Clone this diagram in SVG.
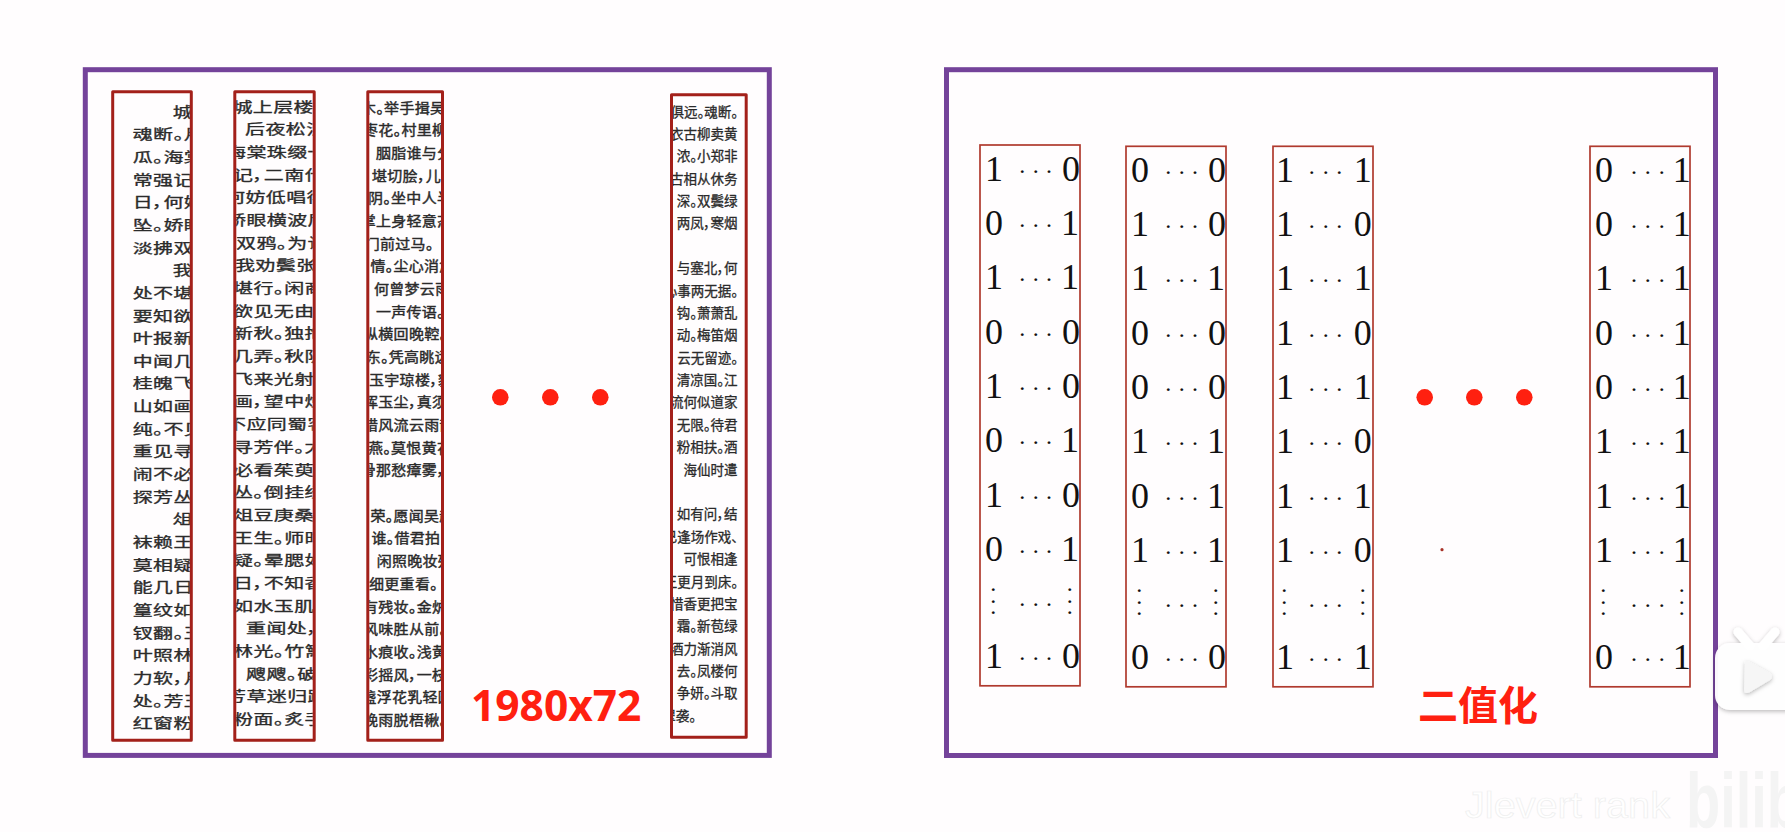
<svg xmlns="http://www.w3.org/2000/svg" width="1785" height="832" viewBox="0 0 1785 832">
<style>
.frame{fill:none;stroke:#74439a;stroke-width:5}
.tb{fill:none;stroke:#a3201a;stroke-width:3;stroke-linejoin:round}
.mb{fill:none;stroke:#b03a2e;stroke-width:1.7}
.c{font-family:"Noto Sans CJK SC","Noto Sans CJK JP",sans-serif;fill:#2b2b2b;stroke:#2b2b2b;stroke-width:.45;font-feature-settings:"palt"}
.c1{font-size:20px;letter-spacing:.4px}
.c3{font-size:15px;letter-spacing:.3px}
.c4{font-size:13.5px;letter-spacing:0;text-anchor:end;stroke-width:.3}
.d{font-family:"Liberation Serif","Times New Roman",serif;font-size:36px;fill:#111;text-anchor:middle}
.h{font-size:24px}
.dot{fill:#ff2010}
.big{fill:#ff2010;font-weight:700}
</style>
<defs>
<clipPath id="c1"><rect x="114.5" y="93" width="75.3" height="645.5"/></clipPath>
<clipPath id="c2"><rect x="236.3" y="93" width="76.4" height="645.5"/></clipPath>
<clipPath id="c3"><rect x="369.3" y="93" width="71.7" height="645.5"/></clipPath>
<clipPath id="c4"><rect x="673" y="96" width="71.7" height="640"/></clipPath>
<filter id="sh" x="-20%" y="-20%" width="140%" height="140%"><feDropShadow dx="0" dy="1.5" stdDeviation="2" flood-color="#000" flood-opacity=".28"/></filter>
</defs>
<rect width="1785" height="832" fill="#fffdfe"/>

<g id="panel-text">
<rect class="frame" x="85.3" y="69.7" width="684" height="685.7"/>
<g id="strip-1">
<g clip-path="url(#c1)" class="c c1">
<text x="172.7" transform="matrix(1 0 0 .68 0 116.6)">城</text>
<text x="132.7" transform="matrix(1 0 0 .68 0 139.3)">魂断。月</text>
<text x="132.7" transform="matrix(1 0 0 .68 0 161.9)">瓜。海棠</text>
<text x="132.7" transform="matrix(1 0 0 .68 0 184.6)">常强记</text>
<text x="132.7" transform="matrix(1 0 0 .68 0 207.2)">日，何妨</text>
<text x="132.7" transform="matrix(1 0 0 .68 0 229.9)">坠。娇眼</text>
<text x="132.7" transform="matrix(1 0 0 .68 0 252.5)">淡拂双</text>
<text x="172.7" transform="matrix(1 0 0 .68 0 275.2)">我</text>
<text x="132.7" transform="matrix(1 0 0 .68 0 297.8)">处不堪</text>
<text x="132.7" transform="matrix(1 0 0 .68 0 320.5)">要知欲</text>
<text x="132.7" transform="matrix(1 0 0 .68 0 343.1)">叶报新</text>
<text x="132.7" transform="matrix(1 0 0 .68 0 365.8)">中闻几</text>
<text x="132.7" transform="matrix(1 0 0 .68 0 388.4)">桂魄飞</text>
<text x="132.7" transform="matrix(1 0 0 .68 0 411.1)">山如画</text>
<text x="132.7" transform="matrix(1 0 0 .68 0 433.7)">纯。不见</text>
<text x="132.7" transform="matrix(1 0 0 .68 0 456.4)">重见寻</text>
<text x="132.7" transform="matrix(1 0 0 .68 0 479)">闹不必</text>
<text x="132.7" transform="matrix(1 0 0 .68 0 501.7)">探芳丛</text>
<text x="172.7" transform="matrix(1 0 0 .68 0 524.3)">俎</text>
<text x="132.7" transform="matrix(1 0 0 .68 0 547)">袜赖王</text>
<text x="132.7" transform="matrix(1 0 0 .68 0 569.6)">莫相疑</text>
<text x="132.7" transform="matrix(1 0 0 .68 0 592.3)">能几日</text>
<text x="132.7" transform="matrix(1 0 0 .68 0 614.9)">篁纹如</text>
<text x="132.7" transform="matrix(1 0 0 .68 0 637.6)">钗翻。玉</text>
<text x="132.7" transform="matrix(1 0 0 .68 0 660.2)">叶照林</text>
<text x="132.7" transform="matrix(1 0 0 .68 0 682.9)">力软，月</text>
<text x="132.7" transform="matrix(1 0 0 .68 0 705.5)">处。芳玉</text>
<text x="132.7" transform="matrix(1 0 0 .68 0 728.2)">红窗粉</text>
</g>
<rect class="tb" x="112.7" y="91.8" width="78.6" height="648.5"/>
</g>
<g id="strip-2">
<g clip-path="url(#c2)" class="c c1">
<text x="232.4" transform="matrix(1 0 0 .68 0 111.6)">城上层楼</text>
<text x="245" transform="matrix(1 0 0 .68 0 134.3)">后夜松泛</text>
<text x="226" transform="matrix(1 0 0 .68 0 157)">海棠珠缀一</text>
<text x="233" transform="matrix(1 0 0 .68 0 179.6)">记，二南什</text>
<text x="225" transform="matrix(1 0 0 .68 0 202.3)">何妨低唱徘</text>
<text x="226" transform="matrix(1 0 0 .68 0 225)">娇眼横波后</text>
<text x="236" transform="matrix(1 0 0 .68 0 247.7)">双鸦。为让</text>
<text x="235" transform="matrix(1 0 0 .68 0 270.4)">我劝鬓张</text>
<text x="233" transform="matrix(1 0 0 .68 0 293)">堪行。闲商</text>
<text x="233" transform="matrix(1 0 0 .68 0 315.7)">欲见无由</text>
<text x="233" transform="matrix(1 0 0 .68 0 338.4)">新秋。独抱</text>
<text x="233" transform="matrix(1 0 0 .68 0 361.1)">几弄。秋阴</text>
<text x="233" transform="matrix(1 0 0 .68 0 383.8)">飞来光射</text>
<text x="233" transform="matrix(1 0 0 .68 0 406.4)">画，望中烛</text>
<text x="226" transform="matrix(1 0 0 .68 0 429.1)">不应同蜀客</text>
<text x="233" transform="matrix(1 0 0 .68 0 451.8)">寻芳伴。大</text>
<text x="233" transform="matrix(1 0 0 .68 0 474.5)">必看茱萸</text>
<text x="233" transform="matrix(1 0 0 .68 0 497.2)">丛。倒挂绣</text>
<text x="233" transform="matrix(1 0 0 .68 0 519.8)">俎豆庚桑</text>
<text x="233" transform="matrix(1 0 0 .68 0 542.5)">王生。师时</text>
<text x="233" transform="matrix(1 0 0 .68 0 565.2)">疑。晕腮如</text>
<text x="233" transform="matrix(1 0 0 .68 0 587.9)">日，不知香</text>
<text x="233" transform="matrix(1 0 0 .68 0 610.6)">如水玉肌</text>
<text x="246" transform="matrix(1 0 0 .68 0 633.2)">重闻处，</text>
<text x="233" transform="matrix(1 0 0 .68 0 655.9)">林光。竹篱</text>
<text x="246" transform="matrix(1 0 0 .68 0 678.6)">飕飕。破</text>
<text x="226" transform="matrix(1 0 0 .68 0 701.3)">芳草迷归路</text>
<text x="233" transform="matrix(1 0 0 .68 0 724)">粉面。炙手</text>
</g>
<rect class="tb" x="234.8" y="91.8" width="79.4" height="648.5"/>
</g>
<g id="strip-3">
<g clip-path="url(#c3)" class="c c3">
<text x="361" transform="matrix(1 0 0 .92 0 112.5)">木。举手揖吴</text>
<text x="363" transform="matrix(1 0 0 .92 0 135.2)">枣花。村里柳</text>
<text x="376" transform="matrix(1 0 0 .92 0 157.9)">胭脂谁与分</text>
<text x="372" transform="matrix(1 0 0 .92 0 180.5)">堪切脍，儿</text>
<text x="368" transform="matrix(1 0 0 .92 0 203.2)">阴。坐中人半</text>
<text x="360.7" transform="matrix(1 0 0 .92 0 225.9)">掌上身轻意态</text>
<text x="364.7" transform="matrix(1 0 0 .92 0 248.6)">门前过马。</text>
<text x="370.4" transform="matrix(1 0 0 .92 0 271.3)">情。尘心消念</text>
<text x="374" transform="matrix(1 0 0 .92 0 293.9)">何曾梦云雨</text>
<text x="376" transform="matrix(1 0 0 .92 0 316.6)">一声传语。</text>
<text x="363" transform="matrix(1 0 0 .92 0 339.3)">纵横回晚鞚。</text>
<text x="365.7" transform="matrix(1 0 0 .92 0 362)">东。凭高眺远</text>
<text x="369" transform="matrix(1 0 0 .92 0 384.7)">玉宇琼楼，貌</text>
<text x="363" transform="matrix(1 0 0 .92 0 407.3)">挥玉尘，真须</text>
<text x="363" transform="matrix(1 0 0 .92 0 430)">惜风流云雨散</text>
<text x="368" transform="matrix(1 0 0 .92 0 452.7)">燕。莫恨黄花</text>
<text x="360.7" transform="matrix(1 0 0 .92 0 475.4)">骨那愁瘴雾，</text>
<text x="370.4" transform="matrix(1 0 0 .92 0 520.7)">荣。愿闻吴越</text>
<text x="371.4" transform="matrix(1 0 0 .92 0 543.4)">谁。借君拍</text>
<text x="376.7" transform="matrix(1 0 0 .92 0 566.1)">闲照晚妆残</text>
<text x="369" transform="matrix(1 0 0 .92 0 588.8)">细更重看。</text>
<text x="363" transform="matrix(1 0 0 .92 0 611.5)">有残妆。金炉</text>
<text x="363" transform="matrix(1 0 0 .92 0 634.1)">风味胜从前。</text>
<text x="363" transform="matrix(1 0 0 .92 0 656.8)">水痕收。浅黄</text>
<text x="363" transform="matrix(1 0 0 .92 0 679.5)">彩摇风，一枝</text>
<text x="361.4" transform="matrix(1 0 0 .92 0 702.2)">盏浮花乳轻圆</text>
<text x="363" transform="matrix(1 0 0 .92 0 724.9)">晚雨脱梧楸。</text>
</g>
<rect class="tb" x="367.8" y="91.8" width="74.7" height="648.5"/>
</g>
<g id="strip-4">
<g clip-path="url(#c4)" class="c c4">
<text x="738" y="116.5">俱远。魂断。</text>
<text x="737.5" y="138.9">衣古柳卖黄</text>
<text x="737.5" y="161.3">浓。小郑非</text>
<text x="737.5" y="183.6">古相从休务</text>
<text x="737.5" y="206">深。双鬓绿</text>
<text x="737.5" y="228.4">两凤，寒烟</text>
<text x="737.5" y="273.2">与塞北，何</text>
<text x="738" y="295.5">心事两无据。</text>
<text x="737.5" y="317.9">钩。萧萧乱</text>
<text x="737.5" y="340.3">动。梅笛烟</text>
<text x="738" y="362.7">云无留迹。</text>
<text x="737.5" y="385.1">清凉国。江</text>
<text x="737.5" y="407.4">流何似道家</text>
<text x="737.5" y="429.8">无限。待君</text>
<text x="737.5" y="452.2">粉相扶。酒</text>
<text x="737.5" y="474.6">海仙时遣</text>
<text x="737.5" y="519.3">如有问，结</text>
<text x="738" y="541.7">已逢场作戏、</text>
<text x="737.5" y="564.1">可恨相逢</text>
<text x="738" y="586.5">王更月到床。</text>
<text x="737.5" y="608.9">惜香更把宝</text>
<text x="737.5" y="631.2">霜。新苞绿</text>
<text x="737.5" y="653.6">酒力渐消风</text>
<text x="737.5" y="676">去。凤楼何</text>
<text x="737.5" y="698.4">争妍。斗取</text>
<text x="696" y="720.8">翠袭。</text>
</g>
<rect class="tb" x="671.5" y="94.8" width="74.7" height="642.4"/>
</g>
<g id="ellipsis-left">
<circle class="dot" cx="500.3" cy="397.3" r="8.3"/>
<circle class="dot" cx="550.3" cy="397.3" r="8.3"/>
<circle class="dot" cx="600.3" cy="397.3" r="8.3"/>
</g>
<text id="label-size" class="big" x="471" y="720.7" font-family="Open Sans, Liberation Sans, sans-serif" font-size="42.5">1980x72</text>
</g>

<g id="panel-binary">
<rect class="frame" x="946.5" y="69.7" width="769" height="685.8"/>
<g id="matrix-1">
<rect class="mb" x="980" y="145" width="100" height="540.8"/>
<g class="d">
<text x="994 1022.3 1035.7 1049 1071" y="180.7">1<tspan class="h" dy="-2">···</tspan><tspan dy="2">0</tspan></text>
<text x="994 1022.3 1035.7 1049 1070" y="235">0<tspan class="h" dy="-2">···</tspan><tspan dy="2">1</tspan></text>
<text x="994 1022.3 1035.7 1049 1070" y="289">1<tspan class="h" dy="-2">···</tspan><tspan dy="2">1</tspan></text>
<text x="994 1022.3 1035.7 1049 1071" y="344">0<tspan class="h" dy="-2">···</tspan><tspan dy="2">0</tspan></text>
<text x="994 1022.3 1035.7 1049 1071" y="398">1<tspan class="h" dy="-2">···</tspan><tspan dy="2">0</tspan></text>
<text x="994 1022.3 1035.7 1049 1070" y="452">0<tspan class="h" dy="-2">···</tspan><tspan dy="2">1</tspan></text>
<text x="994 1022.3 1035.7 1049 1071" y="506.7">1<tspan class="h" dy="-2">···</tspan><tspan dy="2">0</tspan></text>
<text x="994 1022.3 1035.7 1049 1070" y="560.7">0<tspan class="h" dy="-2">···</tspan><tspan dy="2">1</tspan></text>
<text class="h" x="993.3 993.3 993.3" y="596.7 609.3 620">···</text>
<text class="h" x="1022.3 1035.7 1049" y="611.7">···</text>
<text class="h" x="1069.7 1069.7 1069.7" y="596.7 609.3 620">···</text>
<text x="994 1022.3 1035.7 1049 1071" y="668.3">1<tspan class="h" dy="-2">···</tspan><tspan dy="2">0</tspan></text>
</g>
</g>
<g id="matrix-2">
<rect class="mb" x="1126" y="146.3" width="100" height="540.5"/>
<g class="d">
<text x="1140 1168.3 1181.7 1195 1217" y="181.7">0<tspan class="h" dy="-2">···</tspan><tspan dy="2">0</tspan></text>
<text x="1140 1168.3 1181.7 1195 1217" y="236">1<tspan class="h" dy="-2">···</tspan><tspan dy="2">0</tspan></text>
<text x="1140 1168.3 1181.7 1195 1216" y="290">1<tspan class="h" dy="-2">···</tspan><tspan dy="2">1</tspan></text>
<text x="1140 1168.3 1181.7 1195 1217" y="345">0<tspan class="h" dy="-2">···</tspan><tspan dy="2">0</tspan></text>
<text x="1140 1168.3 1181.7 1195 1217" y="399">0<tspan class="h" dy="-2">···</tspan><tspan dy="2">0</tspan></text>
<text x="1140 1168.3 1181.7 1195 1216" y="453">1<tspan class="h" dy="-2">···</tspan><tspan dy="2">1</tspan></text>
<text x="1140 1168.3 1181.7 1195 1216" y="507.5">0<tspan class="h" dy="-2">···</tspan><tspan dy="2">1</tspan></text>
<text x="1140 1168.3 1181.7 1195 1216" y="561.5">1<tspan class="h" dy="-2">···</tspan><tspan dy="2">1</tspan></text>
<text class="h" x="1139.3 1139.3 1139.3" y="597.7 610.3 621">···</text>
<text class="h" x="1168.3 1181.7 1195" y="612.7">···</text>
<text class="h" x="1215.7 1215.7 1215.7" y="597.7 610.3 621">···</text>
<text x="1140 1168.3 1181.7 1195 1217" y="669">0<tspan class="h" dy="-2">···</tspan><tspan dy="2">0</tspan></text>
</g>
</g>
<g id="matrix-3">
<rect class="mb" x="1273" y="146.3" width="100" height="540.5"/>
<g class="d">
<text x="1285 1311.7 1325.7 1339.3 1362.7" y="181.7">1<tspan class="h" dy="-2">···</tspan><tspan dy="2">1</tspan></text>
<text x="1285 1311.7 1325.7 1339.3 1362.7" y="236">1<tspan class="h" dy="-2">···</tspan><tspan dy="2">0</tspan></text>
<text x="1285 1311.7 1325.7 1339.3 1362.7" y="290">1<tspan class="h" dy="-2">···</tspan><tspan dy="2">1</tspan></text>
<text x="1285 1311.7 1325.7 1339.3 1362.7" y="345">1<tspan class="h" dy="-2">···</tspan><tspan dy="2">0</tspan></text>
<text x="1285 1311.7 1325.7 1339.3 1362.7" y="399">1<tspan class="h" dy="-2">···</tspan><tspan dy="2">1</tspan></text>
<text x="1285 1311.7 1325.7 1339.3 1362.7" y="453">1<tspan class="h" dy="-2">···</tspan><tspan dy="2">0</tspan></text>
<text x="1285 1311.7 1325.7 1339.3 1362.7" y="507.5">1<tspan class="h" dy="-2">···</tspan><tspan dy="2">1</tspan></text>
<text x="1285 1311.7 1325.7 1339.3 1362.7" y="561.5">1<tspan class="h" dy="-2">···</tspan><tspan dy="2">0</tspan></text>
<text class="h" x="1284.3 1284.3 1284.3" y="597.7 610.3 621">···</text>
<text class="h" x="1311.7 1325.7 1339.3" y="612.7">···</text>
<text class="h" x="1362.7 1362.7 1362.7" y="597.7 610.3 621">···</text>
<text x="1285 1311.7 1325.7 1339.3 1362.7" y="669">1<tspan class="h" dy="-2">···</tspan><tspan dy="2">1</tspan></text>
</g>
</g>
<g id="matrix-4">
<rect class="mb" x="1590" y="146.3" width="100" height="540.5"/>
<g class="d">
<text x="1604 1634 1647.7 1661.7 1681.7" y="181.7">0<tspan class="h" dy="-2">···</tspan><tspan dy="2">1</tspan></text>
<text x="1604 1634 1647.7 1661.7 1681.7" y="236">0<tspan class="h" dy="-2">···</tspan><tspan dy="2">1</tspan></text>
<text x="1604 1634 1647.7 1661.7 1681.7" y="290">1<tspan class="h" dy="-2">···</tspan><tspan dy="2">1</tspan></text>
<text x="1604 1634 1647.7 1661.7 1681.7" y="345">0<tspan class="h" dy="-2">···</tspan><tspan dy="2">1</tspan></text>
<text x="1604 1634 1647.7 1661.7 1681.7" y="399">0<tspan class="h" dy="-2">···</tspan><tspan dy="2">1</tspan></text>
<text x="1604 1634 1647.7 1661.7 1681.7" y="453">1<tspan class="h" dy="-2">···</tspan><tspan dy="2">1</tspan></text>
<text x="1604 1634 1647.7 1661.7 1681.7" y="507.5">1<tspan class="h" dy="-2">···</tspan><tspan dy="2">1</tspan></text>
<text x="1604 1634 1647.7 1661.7 1681.7" y="561.5">1<tspan class="h" dy="-2">···</tspan><tspan dy="2">1</tspan></text>
<text class="h" x="1603.3 1603.3 1603.3" y="597.7 610.3 621">···</text>
<text class="h" x="1634 1647.7 1661.7" y="612.7">···</text>
<text class="h" x="1681.7 1681.7 1681.7" y="597.7 610.3 621">···</text>
<text x="1604 1634 1647.7 1661.7 1681.7" y="669">0<tspan class="h" dy="-2">···</tspan><tspan dy="2">1</tspan></text>
</g>
</g>
<g id="ellipsis-right">
<circle class="dot" cx="1424.7" cy="397.3" r="8.3"/>
<circle class="dot" cx="1474.3" cy="397.3" r="8.3"/>
<circle class="dot" cx="1524.3" cy="397.3" r="8.3"/>
</g>
<circle cx="1442" cy="549.7" r="1.6" fill="#a83228"/>
<text id="label-binarize" class="big" x="1418" y="720" font-family="Noto Sans CJK SC, sans-serif" font-size="40" font-weight="900">二值化</text>
</g>

<g id="watermark">
<g filter="url(#sh)">
<path d="M1738 632 L1750 646 M1775 632 L1763 646" stroke="#fff" stroke-width="9" stroke-linecap="round" fill="none"/>
<rect x="1715" y="643" width="100" height="67" rx="15" fill="#fff" opacity=".96"/>
</g>
<path d="M1745 664 Q1743 660 1750 662 L1770 673 Q1774 677 1770 680 L1750 692 Q1744 695 1744 689 Z" fill="#f6f6f6" filter="url(#sh)"/>
<text x="1465" y="818" font-family="Liberation Sans, sans-serif" font-size="36" textLength="205" lengthAdjust="spacingAndGlyphs" fill="#fff" stroke="#eeeeee" stroke-width=".7">Jlevert rank</text>
<text x="1686" y="828" font-family="Liberation Sans, sans-serif" font-weight="700" font-size="78" textLength="115" lengthAdjust="spacingAndGlyphs" fill="#f4f4f4">bilib</text>
</g>
</svg>
